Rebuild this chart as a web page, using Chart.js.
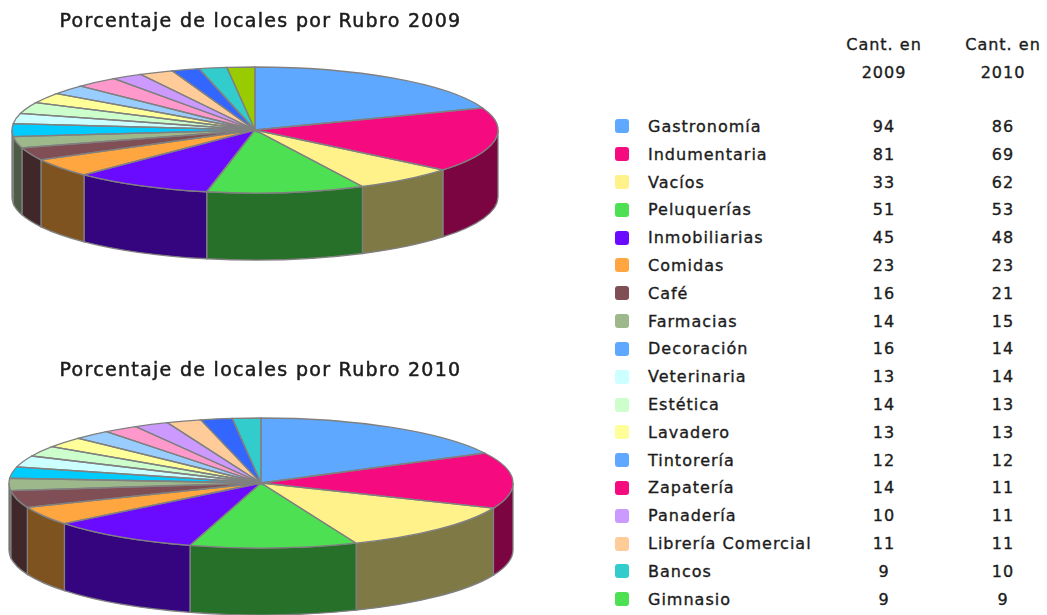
<!DOCTYPE html>
<html>
<head>
<meta charset="utf-8">
<script src="https://cdn.jsdelivr.net/npm/chart.js@4"></script>
<style>
    html, body { margin: 0; padding: 0; background: #fff; overflow: hidden; }
    body { width: 1047px; height: 615px; position: relative; font-family: "DejaVu Sans", sans-serif; color: #1c1c1c; }
    #lienzo { position: absolute; left: 0; top: 0; width: 1047px; height: 615px; background: #fff; filter: blur(0.45px); overflow: hidden; }
    canvas { position: absolute; left: 0; }
    #chart2009 { top: 0; }
    #chart2010 { top: 350px; }
    .titulo { position: absolute; left: 0; width: 521px; text-align: center; font-size: 19px; letter-spacing: 1.3px; line-height: 22px; -webkit-text-stroke: 0.5px #1c1c1c; white-space: nowrap; }
    #tabla { position: absolute; left: 608px; top: 31px; width: 454.5px; table-layout: fixed; border-collapse: collapse; font-size: 16px; letter-spacing: 1px; -webkit-text-stroke: 0.35px #1c1c1c; }
    #tabla td, #tabla th { padding: 0; font-weight: normal; white-space: nowrap; }
    #tabla th { height: 27.5px; text-align: center; }
    #tabla tr.sep th { height: 26.5px; }
    #tabla tr.fila td { height: 27.82px; }
    .sw { display: block; width: 14px; height: 14px; border-radius: 3px; margin-left: 7px; }
    .col-sw { width: 40px; }
    .col-name { width: 176.5px; }
    .col-val { width: 119px; text-align: center; }
</style>
</head>
<body>
<div id="lienzo">
    <canvas id="chart2009" width="521" height="265"></canvas>
    <canvas id="chart2010" width="521" height="265"></canvas>
    <div class="titulo" style="top: 9px">Porcentaje de locales por Rubro 2009</div>
    <div class="titulo" style="top: 358px">Porcentaje de locales por Rubro 2010</div>
    <table id="tabla"></table>
</div>

<script>
const RUBROS = ['Gastronomía', 'Indumentaria', 'Vacíos', 'Peluquerías', 'Inmobiliarias', 'Comidas', 'Café', 'Farmacias',
    'Decoración', 'Veterinaria', 'Estética', 'Lavadero', 'Tintorería', 'Zapatería', 'Panadería', 'Librería Comercial', 'Bancos', 'Gimnasio'];
const CANT_2009 = [94, 81, 33, 51, 45, 23, 16, 14, 16, 13, 14, 13, 12, 14, 10, 11, 9, 9];
const CANT_2010 = [86, 69, 62, 53, 48, 23, 21, 15, 14, 14, 13, 13, 12, 11, 11, 11, 10, 9];
// 2009 pie has one more slice (lime) whose table row is cut off in the picture
const EXTRA_2009 = 9;

const SLICE_COLORS = ['#5fa8ff', '#f50a80', '#fff28a', '#4de052', '#6a0aff', '#ffa640', '#804f55', '#9db88a',
    '#00ccff', '#ccffff', '#ccffcc', '#ffff99', '#99ccff', '#ff99cc', '#cc99ff', '#ffcc99', '#3366ff', '#33cccc', '#99cc00'];
const SWATCH_COLORS = ['#5fa8ff', '#f50a80', '#fff28a', '#4de052', '#6a0aff', '#ffa640', '#804f55', '#9db88a',
    '#5fa8ff', '#ccffff', '#ccffcc', '#ffff99', '#5fa8ff', '#f50a80', '#cc99ff', '#ffcc99', '#33cccc', '#4de052'];
const BORDER = '#808080';
const BORDER_WIDTH = 1.3;

function darken(hex) {
    const n = parseInt(hex.slice(1), 16);
    const r = (n >> 16) >> 1, g = ((n >> 8) & 255) >> 1, b = (n & 255) >> 1;
    return `rgb(${r},${g},${b})`;
}

// Squashes the arcs into an ellipse and adds the side wall
const pie3d = {
    id: 'pie3d',
    beforeDatasetsDraw(chart, args, opts) {
        const ctx = chart.ctx;
        const arcs = chart.getDatasetMeta(0).data;
        ctx.save();
        ctx.lineWidth = BORDER_WIDTH;
        ctx.strokeStyle = BORDER;
        arcs.forEach((arc, i) => {
            const a1 = Math.max(arc.startAngle, 0);
            const a2 = Math.min(arc.endAngle, Math.PI);
            if (a2 <= a1) return;
            ctx.beginPath();
            ctx.ellipse(opts.cx, opts.cy, opts.rx, opts.ry, 0, a1, a2);
            ctx.ellipse(opts.cx, opts.cy + opts.depth, opts.rx, opts.ry, 0, a2, a1, true);
            ctx.closePath();
            ctx.fillStyle = darken(SLICE_COLORS[i]);
            ctx.fill();
            ctx.stroke();
        });
        ctx.restore();

        const c = arcs[0];
        ctx.save();
        ctx.translate(opts.cx, opts.cy);
        ctx.scale(1, opts.ry / opts.rx);
        ctx.translate(-c.x, -c.y);
    },
    afterDatasetsDraw(chart, args, opts) {
        const ctx = chart.ctx;
        ctx.restore();
        ctx.save();
        ctx.lineWidth = BORDER_WIDTH;
        ctx.strokeStyle = BORDER;
        chart.getDatasetMeta(0).data.forEach(arc => {
            ctx.beginPath();
            ctx.moveTo(opts.cx, opts.cy);
            ctx.ellipse(opts.cx, opts.cy, opts.rx, opts.ry, 0, arc.startAngle, arc.endAngle);
            ctx.closePath();
            ctx.stroke();
        });
        ctx.restore();
    }
};

function makePie(id, values, geom) {
    new Chart(document.getElementById(id), {
        type: 'pie',
        plugins: [pie3d],
        data: {
            labels: RUBROS.concat(['']).slice(0, values.length),
            datasets: [{ data: values, backgroundColor: SLICE_COLORS, borderWidth: 0, radius: geom.rx, clip: false }]
        },
        options: {
            responsive: false,
            animation: false,
            events: [],
            plugins: {
                legend: { display: false },
                tooltip: { enabled: false },
                pie3d: geom
            }
        }
    });
}

makePie('chart2009', CANT_2009.concat([EXTRA_2009]), { cx: 255, cy: 130, rx: 243, ry: 63, depth: 67 });
makePie('chart2010', CANT_2010, { cx: 261, cy: 133, rx: 252, ry: 65, depth: 67 });

// Table on the right
const tabla = document.getElementById('tabla');
tabla.innerHTML =
    '<colgroup><col class="col-sw"><col class="col-name"><col class="col-val"><col class="col-val"></colgroup>' +
    '<tr><th>&nbsp;</th><th></th><th>Cant. en</th><th>Cant. en</th></tr>' +
    '<tr><th>&nbsp;</th><th></th><th>2009</th><th>2010</th></tr>' +
    '<tr class="sep"><th></th><th></th><th></th><th></th></tr>' +
    RUBROS.map((r, i) => `<tr class="fila"><td><span class="sw" style="background:${SWATCH_COLORS[i]}"></span></td>` +
        `<td>${r}</td><td class="col-val">${CANT_2009[i]}</td><td class="col-val">${CANT_2010[i]}</td></tr>`).join('');
</script>
</body>
</html>
